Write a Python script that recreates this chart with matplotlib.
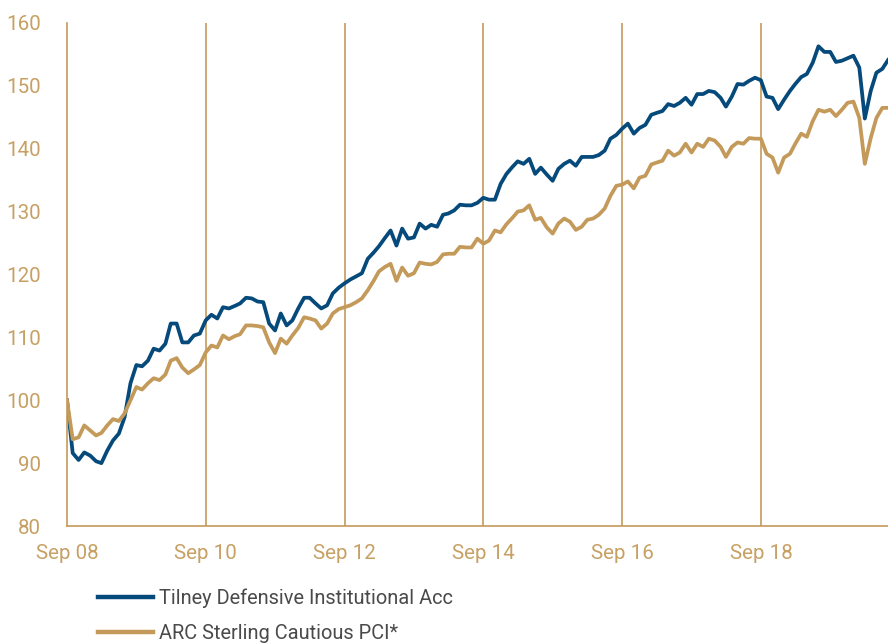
import matplotlib
matplotlib.use("Agg")
import matplotlib.pyplot as plt
import pandas as pd

plt.rcParams['font.family'] = ['Roboto', 'DejaVu Sans']

start_date = "2008-09-01"

tilney = [100.0, 91.6, 90.5, 91.7, 91.2, 90.3, 90.0, 92.0, 93.6, 94.7,
          97.3, 102.7, 105.6, 105.4, 106.3, 108.2, 107.9, 109.0, 112.2, 112.2,
          109.2, 109.2, 110.3, 110.6, 112.7, 113.6, 113.0, 114.8, 114.6, 115.0,
          115.4, 116.3, 116.2, 115.7, 115.6, 112.2, 111.1, 113.8, 111.9, 112.7,
          114.6, 116.3, 116.3, 115.4, 114.6, 115.1, 117.0, 117.9, 118.6, 119.2,
          119.7, 120.2, 122.5, 123.5, 124.5, 125.8, 127.0, 124.6, 127.3, 125.7,
          125.9, 128.1, 127.3, 127.9, 127.6, 129.5, 129.7, 130.2, 131.1, 131.0,
          131.0, 131.4, 132.2, 131.9, 131.9, 134.4, 136.0, 137.1, 138.0, 137.6,
          138.4, 136.0, 137.0, 135.9, 134.9, 136.8, 137.6, 138.1, 137.3, 138.7,
          138.7, 138.7, 139.0, 139.7, 141.6, 142.2, 143.2, 144.0, 142.4, 143.3,
          143.8, 145.4, 145.7, 146.0, 147.1, 146.8, 147.3, 148.1, 147.0, 148.7,
          148.7, 149.2, 149.0, 148.1, 146.7, 148.3, 150.3, 150.2, 150.8, 151.3,
          150.9, 148.3, 148.1, 146.3, 147.8, 149.2, 150.3, 151.4, 151.9, 153.7,
          156.3, 155.4, 155.4, 153.8, 154.0, 154.4, 154.8, 152.9, 144.8, 149.2,
          152.1, 152.7, 154.1]

arc = [100.0, 93.8, 94.1, 96.0, 95.2, 94.4, 94.8, 96.0, 97.0, 96.7,
       97.9, 100.0, 102.1, 101.7, 102.7, 103.5, 103.2, 104.1, 106.3, 106.7,
       105.2, 104.3, 104.9, 105.6, 107.6, 108.7, 108.4, 110.3, 109.7, 110.2,
       110.5, 111.9, 111.9, 111.8, 111.6, 109.2, 107.5, 109.8, 109.0, 110.3,
       111.5, 113.2, 113.0, 112.7, 111.4, 112.2, 113.8, 114.5, 114.8, 115.1,
       115.6, 116.2, 117.5, 119.0, 120.5, 121.2, 121.7, 119.0, 121.1, 119.8,
       120.2, 121.9, 121.7, 121.6, 122.0, 123.2, 123.3, 123.3, 124.4, 124.3,
       124.3, 125.7, 124.9, 125.4, 127.0, 126.7, 128.0, 129.0, 130.0, 130.2,
       131.0, 128.7, 129.0, 127.5, 126.5, 128.1, 128.9, 128.4, 127.1, 127.6,
       128.7, 128.9, 129.5, 130.5, 132.5, 134.1, 134.3, 134.8, 133.7, 135.4,
       135.7, 137.5, 137.8, 138.1, 139.7, 138.9, 139.4, 140.8, 139.4, 140.8,
       140.3, 141.6, 141.3, 140.3, 138.7, 140.3, 141.0, 140.8, 141.7, 141.6,
       141.6, 139.2, 138.6, 136.2, 138.6, 139.2, 140.8, 142.4, 141.9, 144.4,
       146.2, 145.9, 146.2, 145.2, 146.2, 147.3, 147.5, 144.9, 137.6, 141.7,
       144.9, 146.5, 146.5]

series_names = ["Tilney Defensive Institutional Acc", "ARC Sterling Cautious PCI*"]
tick_dates = ["2008-09-01", "2010-09-01", "2012-09-01", "2014-09-01",
              "2016-09-01", "2018-09-01"]
tick_labels = ["Sep 08", "Sep 10", "Sep 12", "Sep 14", "Sep 16", "Sep 18"]
y_ticks = [80, 90, 100, 110, 120, 130, 140, 150, 160]

dates = pd.date_range(start_date, periods=len(tilney), freq="MS")

BLUE = "#064a7b"
GOLD = "#c49a5b"
TEXT_GOLD = "#c7a063"
GREY = "#4a4a4a"

fig = plt.figure(figsize=(8.88, 6.43), dpi=100)
ax = fig.add_axes([67 / 888, 117 / 643, 1 - 67 / 888, (526 - 23) / 643])

ax.plot(dates, tilney, color=BLUE, lw=2.7, label=series_names[0], solid_joinstyle='round')
ax.plot(dates, arc, color=GOLD, lw=2.7, label=series_names[1], solid_joinstyle='round')

ax.set_ylim(80, 160)
ax.set_xlim(dates[0], dates[-1])
ax.set_yticks(y_ticks)
td = pd.to_datetime(tick_dates)
ax.set_xticks(td)
ax.set_xticklabels(tick_labels)

for d in td[1:]:
    ax.axvline(d, color=GOLD, lw=1.2, zorder=0)

for s in ["top", "right"]:
    ax.spines[s].set_visible(False)
for s in ["left", "bottom"]:
    ax.spines[s].set_color(GOLD)
    ax.spines[s].set_linewidth(1.2)

ax.tick_params(axis="both", length=0, labelsize=14.8, labelcolor=TEXT_GOLD)
ax.tick_params(axis="y", pad=19)
ax.tick_params(axis="x", pad=13)

leg = fig.legend(loc="upper left", bbox_to_anchor=(90 / 888, 1 - 580 / 643),
                 frameon=False, fontsize=14.4, handlelength=2.75, handletextpad=0.3,
                 labelspacing=0.8, borderaxespad=0)
for t in leg.get_texts():
    t.set_color(GREY)
for l in leg.get_lines():
    l.set_linewidth(3.2)

fig.savefig("out.png", dpi=100)
